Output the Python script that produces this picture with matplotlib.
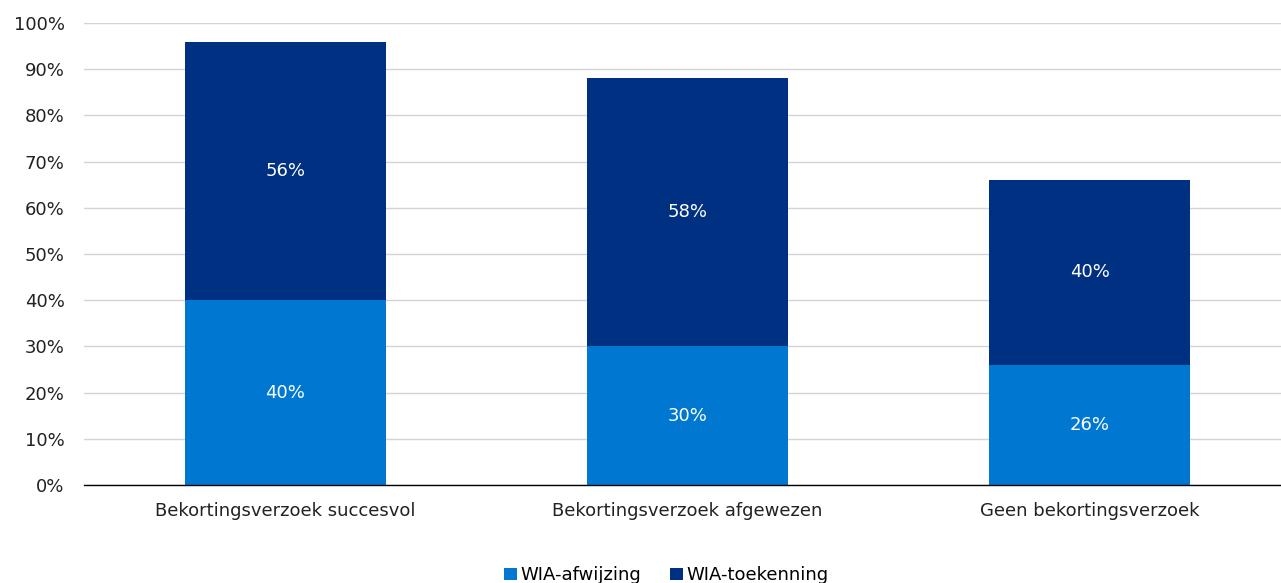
import matplotlib.pyplot as plt
import numpy as np

categories = ["Bekortingsverzoek succesvol", "Bekortingsverzoek afgewezen", "Geen bekortingsverzoek"]
afwijzing = [40, 30, 26]
toekenning = [56, 58, 40]
yticks = [0, 10, 20, 30, 40, 50, 60, 70, 80, 90, 100]

c_light = "#0078D2"
c_dark = "#003082"
fs = 13

plt.rcParams['font.family'] = ['DejaVu Sans']
fig = plt.figure(figsize=(12.81, 5.83), dpi=100)
ax = fig.add_axes([0.0656, 0.1681, 0.9344, 0.7924])

x = np.arange(len(categories))
w = 0.5
b1 = ax.bar(x, afwijzing, w, color=c_light, label="WIA-afwijzing", zorder=3)
b2 = ax.bar(x, toekenning, w, bottom=afwijzing, color=c_dark, label="WIA-toekenning", zorder=3)

for rect, v in zip(b1, afwijzing):
    ax.text(rect.get_x() + rect.get_width() / 2, rect.get_y() + v / 2, f"{v}%",
            ha='center', va='center', color='white', fontsize=fs, zorder=4)
for rect, v, b in zip(b2, toekenning, afwijzing):
    ax.text(rect.get_x() + rect.get_width() / 2, b + v / 2, f"{v}%",
            ha='center', va='center', color='white', fontsize=fs, zorder=4)

ax.set_xlim(-0.5, 2.475)
ax.set_ylim(0, 100)
ax.set_yticks(yticks)
ax.set_yticklabels([f"{t}%" for t in yticks], fontsize=fs, color='#222222')
ax.set_xticks(x)
ax.set_xticklabels(categories, fontsize=fs, color='#222222')
ax.tick_params(axis='y', length=0, pad=14)
ax.tick_params(axis='x', length=0, pad=12)
ax.yaxis.grid(True, color='#d4d4d4', linewidth=1, zorder=0)
for s in ['top', 'right', 'left']:
    ax.spines[s].set_visible(False)
ax.spines['bottom'].set_color('black')
ax.spines['bottom'].set_linewidth(1)
ax.spines['bottom'].set_zorder(5)

fig.legend(loc='lower center', bbox_to_anchor=(0.52, -0.03), ncol=2, frameon=False,
           fontsize=fs, handlelength=0.7, handleheight=0.7, handletextpad=0.2,
           columnspacing=1.6)

fig.savefig("out.png", dpi=100)
